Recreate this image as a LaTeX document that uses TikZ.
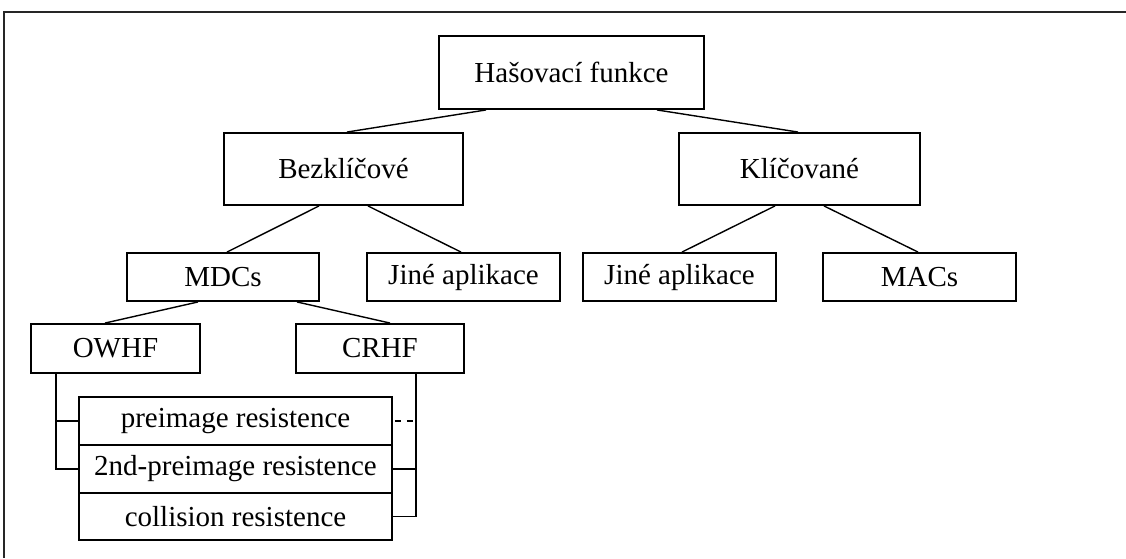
\documentclass[tikz,border=0pt]{standalone}
\usepackage{fontspec}
\setmainfont{Liberation Serif}
\begin{document}
\begin{tikzpicture}[x=0.5pt,y=-0.5pt,
  box/.style={draw,line width=0.95pt,rectangle,inner sep=0pt,font=\fontsize{14.5}{17}\selectfont},
  conn/.style={line width=0.7pt},
  frame/.style={line width=0.6pt,draw=black!85}]
\useasboundingbox (0,0) rectangle (1126,558);
\draw[frame] (1126,12) -- (4,12) -- (4,558);
\node[box,minimum width=132.5pt,minimum height=36.5pt] (hash) at (571.5,72.5) {Hašovací funkce};
\node[box,minimum width=119.5pt,minimum height=36pt] (bez) at (343.5,169) {Bezklíčové};
\node[box,minimum width=120.5pt,minimum height=36pt] (kl) at (799.5,169) {Klíčované};
\node[box,minimum width=96pt,minimum height=24pt] (mdc) at (223,277) {MDCs};
\node[box,minimum width=96.5pt,minimum height=24pt] (jl) at (463.5,277) {Jiné aplikace};
\node[box,minimum width=96.5pt,minimum height=24pt] (jr) at (679.5,277) {Jiné aplikace};
\node[box,minimum width=96.5pt,minimum height=24pt] (mac) at (919.5,277) {MACs};
\node[box,minimum width=84.5pt,minimum height=24.5pt] (owhf) at (115.5,348.5) {OWHF};
\node[box,minimum width=84pt,minimum height=24.5pt] (crhf) at (380,348.5) {CRHF};
\node[box,minimum width=156.5pt,minimum height=24pt] (pre) at (235.5,421) {preimage resistence};
\node[box,minimum width=156.5pt,minimum height=24pt] (sec) at (235.5,469) {2nd-preimage resistence};
\node[box,minimum width=156.5pt,minimum height=23.5pt] (col) at (235.5,516.5) {collision resistence};
\coordinate (ov) at ([xshift=-29.75pt]owhf.south);
\coordinate (cv) at ([xshift=18pt]crhf.south);
\draw[conn] ([xshift=-42.75pt]hash.south) -- ([xshift=1.75pt]bez.north);
\draw[conn] ([xshift=42.75pt]hash.south) -- ([xshift=-0.75pt]kl.north);
\draw[conn] ([xshift=-12.25pt]bez.south) -- ([xshift=2pt]mdc.north);
\draw[conn] ([xshift=12.25pt]bez.south) -- ([xshift=-1.25pt]jl.north);
\draw[conn] ([xshift=-12.25pt]kl.south) -- ([xshift=1.25pt]jr.north);
\draw[conn] ([xshift=12.25pt]kl.south) -- ([xshift=-0.75pt]mac.north);
\draw[conn] ([xshift=-12.5pt]mdc.south) -- ([xshift=-5.25pt]owhf.north);
\draw[conn] ([xshift=37pt]mdc.south) -- ([xshift=5pt]crhf.north);
\draw[conn] (ov) |- (sec.west);
\draw[conn] (ov) |- (pre.west);
\draw[conn] (cv) |- (col.east);
\draw[conn] (cv) |- (sec.east);
\draw[conn,dash pattern=on 3pt off 3pt,dash phase=-1pt] (pre.east) -- (pre.east -| cv);
\end{tikzpicture}
\end{document}
